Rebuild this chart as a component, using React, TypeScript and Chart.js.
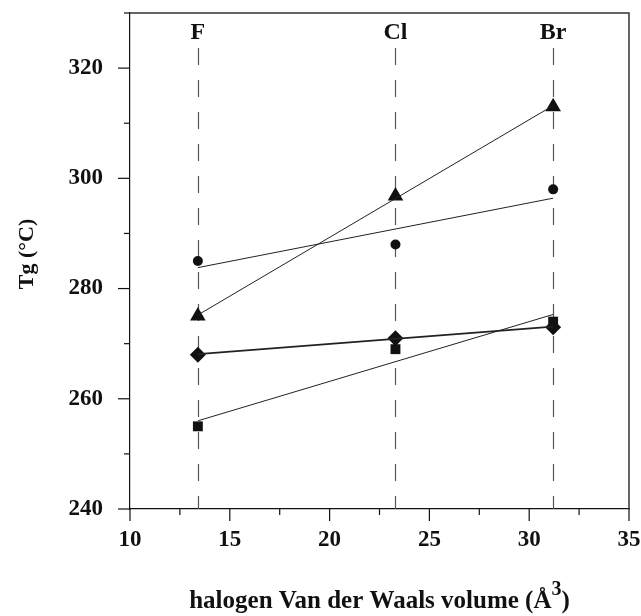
import React, { useEffect, useRef } from 'react';
import { Chart, registerables } from 'chart.js';

Chart.register(...registerables);

// ---- data ----
const halogenLabels = ['F', 'Cl', 'Br'];
const halogenVolumes = [13.4, 23.3, 31.2];
const circleTg = [285, 288, 298];
const triangleTg = [275, 296.8, 313];
const squareTg = [255, 269, 274];
const diamondTg = [268, 271, 273];
// fitted straight lines, end values at F and Br
const fitX = [13.4, 31.2];
const circleFit = [283.8, 296.4];
const triangleFit = [275.2, 313.2];
const squareFit = [256.0, 275.3];
const diamondFit = [268.1, 273.1];
// axes
const xMin = 10;
const xMax = 35;
const xMajorStep = 5;
const xMinorStep = 2.5;
const yMin = 240;
const yMax = 330;
const yLabelMax = 320;
const yMajorStep = 20;
const yMinorStep = 10;
const xTitle = 'halogen Van der Waals volume (Å';
const xTitleSup = '3';
const xTitleEnd = ')';
const yTitle = 'Tg (°C)';

const FONT = "'Liberation Serif', 'Times New Roman', serif";
const INK = '#111';

const pts = (xs: number[], ys: number[]) => xs.map((x, i) => ({ x, y: ys[i] }));

const isMultiple = (v: number, step: number) => Math.abs(v / step - Math.round(v / step)) < 1e-6;

const zeroPad = (s: any) => {
  s.paddingTop = 0;
  s.paddingBottom = 0;
  s.paddingLeft = 0;
  s.paddingRight = 0;
};

const decorPlugin = {
  id: 'decor',
  beforeDatasetsDraw(chart: any) {
    const { ctx, chartArea, scales } = chart;
    const xs = scales.x;
    ctx.save();
    ctx.strokeStyle = '#555';
    ctx.lineWidth = 1.2;
    ctx.setLineDash([17, 15]);
    halogenVolumes.forEach((v) => {
      const px = Math.round(xs.getPixelForValue(v)) + 0.5;
      ctx.beginPath();
      ctx.moveTo(px, 48);
      ctx.lineTo(px, chartArea.bottom);
      ctx.stroke();
    });
    ctx.restore();
  },
  afterDraw(chart: any) {
    const { ctx, chartArea, scales } = chart;
    const xs = scales.x;
    const ys = scales.y;
    ctx.save();
    // top & right frame
    ctx.strokeStyle = '#333';
    ctx.lineWidth = 1.5;
    ctx.beginPath();
    ctx.moveTo(chartArea.left, chartArea.top);
    ctx.lineTo(chartArea.right, chartArea.top);
    ctx.lineTo(chartArea.right, chartArea.bottom);
    ctx.stroke();
    // ticks
    ctx.strokeStyle = INK;
    ctx.lineWidth = 1.2;
    for (let v = yMin; v <= yMax + 1e-6; v += yMinorStep) {
      const py = ys.getPixelForValue(v);
      const len = isMultiple(v, yMajorStep) ? 12 : 6;
      ctx.beginPath();
      ctx.moveTo(chartArea.left - len, py);
      ctx.lineTo(chartArea.left, py);
      ctx.stroke();
    }
    for (let v = xMin; v <= xMax + 1e-6; v += xMinorStep) {
      const px = xs.getPixelForValue(v);
      const len = isMultiple(v, xMajorStep) ? 12 : 6;
      ctx.beginPath();
      ctx.moveTo(px, chartArea.bottom);
      ctx.lineTo(px, chartArea.bottom + len);
      ctx.stroke();
    }
    // halogen labels
    ctx.fillStyle = INK;
    ctx.font = `bold 24px ${FONT}`;
    ctx.textAlign = 'center';
    ctx.textBaseline = 'middle';
    halogenVolumes.forEach((v, i) => {
      ctx.fillText(halogenLabels[i], xs.getPixelForValue(v), 33);
    });
    // y title
    ctx.save();
    ctx.font = `bold 22px ${FONT}`;
    ctx.translate(27, 254);
    ctx.rotate(-Math.PI / 2);
    ctx.fillText(yTitle, 0, 0);
    ctx.restore();
    // x title with superscript
    ctx.textAlign = 'left';
    ctx.textBaseline = 'alphabetic';
    const mainFont = `bold 25px ${FONT}`;
    const supFont = `bold 20px ${FONT}`;
    ctx.font = mainFont;
    const w1 = ctx.measureText(xTitle).width;
    const w3 = ctx.measureText(xTitleEnd).width;
    ctx.font = supFont;
    const w2 = ctx.measureText(xTitleSup).width;
    const total = w1 + w2 + w3;
    const cx = (chartArea.left + chartArea.right) / 2;
    let x0 = cx - total / 2;
    const base = 608;
    ctx.font = mainFont;
    ctx.fillText(xTitle, x0, base);
    x0 += w1;
    ctx.font = supFont;
    ctx.fillText(xTitleSup, x0, base - 13);
    x0 += w2;
    ctx.font = mainFont;
    ctx.fillText(xTitleEnd, x0, base);
    ctx.restore();
  },
};

export default function App() {
  const canvasRef = useRef<HTMLCanvasElement | null>(null);

  useEffect(() => {
    const canvas = canvasRef.current;
    if (!canvas) return;
    const lineDs = (ys: number[], width: number) => ({
      type: 'scatter' as const,
      data: pts(fitX, ys),
      showLine: true,
      borderColor: '#222',
      borderWidth: width,
      pointRadius: 0,
      fill: false,
    });
    const markerDs = (ys: number[], style: string, radius: number) => ({
      type: 'scatter' as const,
      data: pts(halogenVolumes, ys),
      showLine: false,
      pointStyle: style,
      pointRadius: radius,
      pointBackgroundColor: INK,
      pointBorderColor: INK,
      pointBorderWidth: 0,
    });
    const chart = new Chart(canvas, {
      type: 'scatter',
      data: {
        datasets: [
          lineDs(circleFit, 1),
          lineDs(triangleFit, 1),
          lineDs(squareFit, 1),
          lineDs(diamondFit, 1.8),
          markerDs(circleTg, 'circle', 5),
          markerDs(triangleTg, 'triangle', 9),
          markerDs(squareTg, 'rect', 7),
          markerDs(diamondTg, 'rectRot', 8),
        ] as any,
      },
      options: {
        responsive: false,
        animation: false,
        events: [],
        layout: { padding: { top: 13, right: 12, left: 0, bottom: 0 } },
        plugins: {
          legend: { display: false },
          tooltip: { enabled: false },
          title: { display: false },
        },
        scales: {
          x: {
            type: 'linear',
            min: xMin,
            max: xMax,
            afterFit: (s: any) => {
              s.height = 107;
              zeroPad(s);
            },
            afterBuildTicks: (s: any) => {
              const t = [];
              for (let v = xMin; v <= xMax + 1e-6; v += xMajorStep) t.push({ value: v });
              s.ticks = t;
            },
            ticks: {
              padding: 17,
              color: INK,
              font: { family: FONT, size: 23, weight: 'bold' },
              maxRotation: 0,
              autoSkip: false,
            },
            grid: { display: false, drawTicks: false },
            border: { display: true, color: INK, width: 1.2 },
          },
          y: {
            type: 'linear',
            min: yMin,
            max: yMax,
            afterFit: (s: any) => {
              s.width = 130;
              zeroPad(s);
            },
            afterBuildTicks: (s: any) => {
              const t = [];
              for (let v = yMin; v <= yLabelMax + 1e-6; v += yMajorStep) t.push({ value: v });
              s.ticks = t;
            },
            ticks: {
              padding: 27,
              color: INK,
              font: { family: FONT, size: 23, weight: 'bold' },
              autoSkip: false,
            },
            grid: { display: false, drawTicks: false },
            border: { display: true, color: INK, width: 1.2 },
          },
        },
      } as any,
      plugins: [decorPlugin],
    });
    return () => chart.destroy();
  }, []);

  return (
    <div style={{ position: 'absolute', left: 0, top: 0, width: 641, height: 616, background: '#fff' }}>
      <canvas ref={canvasRef} width={641} height={616} style={{ display: 'block' }} />
    </div>
  );
}
